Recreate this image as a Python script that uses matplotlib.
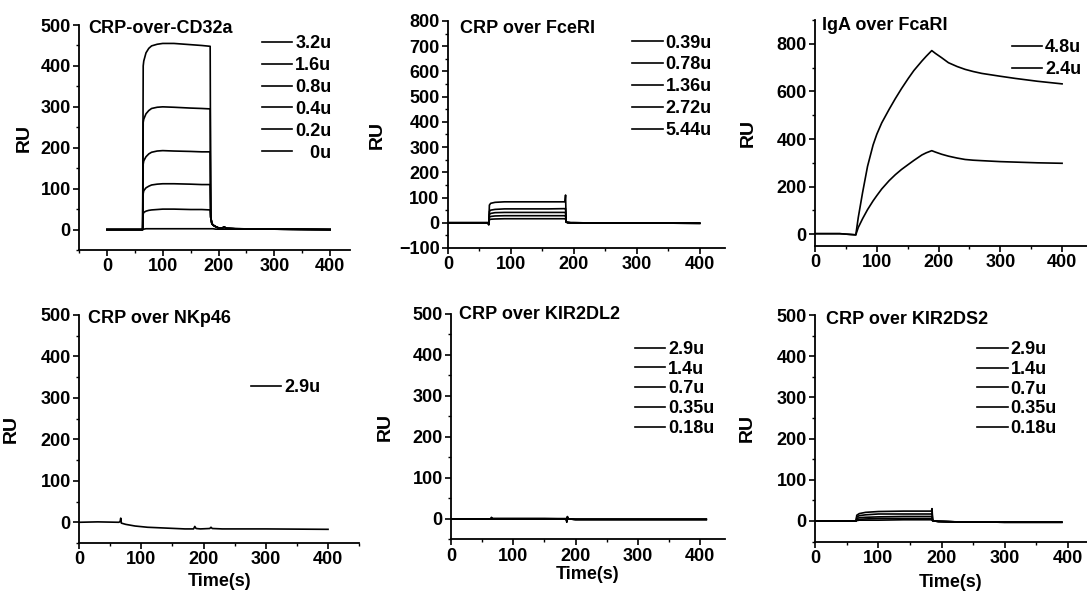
import numpy as np
import matplotlib
matplotlib.use("Agg")
import matplotlib.pyplot as plt
from matplotlib.ticker import MultipleLocator

plt.rcParams['font.family'] = ['Liberation Sans', 'DejaVu Sans']
plt.rcParams['font.weight'] = 'bold'
plt.rcParams['font.size'] = 13

# ---- CRP over CD32a ----
t_cd32 = [0, 64, 65, 66, 70, 75, 80, 90, 100, 120, 150, 170, 185, 186, 188, 190, 195, 200, 205, 210, 215, 230, 300, 400]
cd32_labels = ['3.2u', '1.6u', '0.8u', '0.4u', '0.2u', '   0u']
cd32_32 = [0, 0, 400, 412, 432, 443, 449, 453, 455, 455, 452, 450, 448, 30, 15, 11, 7, 4, 3, 6, 3, 2, 1, 0]
cd32_16 = [0, 0, 262, 270, 283, 291, 296, 299, 300, 299, 297, 296, 295, 30, 15, 11, 7, 4, 3, 6, 3, 2, 1, 0]
cd32_08 = [0, 0, 160, 168, 178, 185, 189, 192, 193, 192, 191, 190, 190, 30, 15, 11, 7, 4, 3, 6, 3, 2, 1, 0]
cd32_04 = [0, 0, 88, 95, 102, 106, 109, 111, 112, 112, 111, 110, 110, 30, 15, 11, 7, 4, 3, 6, 3, 2, 1, 0]
cd32_02 = [0, 0, 38, 42, 45, 47, 48, 49, 50, 50, 49, 49, 48, 30, 15, 11, 7, 4, 3, 6, 3, 2, 1, 0]
cd32_00 = [0, 0, 1, 1, 2, 2, 2, 2, 2, 2, 2, 2, 2, 2, 2, 2, 1, 1, 1, 1, 1, 1, 1, 0]

# ---- CRP over FceRI ----
t_fce = [0, 60, 64, 65, 66, 68, 75, 90, 120, 160, 186, 187, 188, 190, 195, 200, 250, 300, 400]
fce_labels = ['0.39u', '0.78u', '1.36u', '2.72u', '5.44u']
fce_039 = [0, 0, 0, -7, 12, 14, 15, 16, 16, 16, 16, 16, 3, 1, 0, 0, -1, -1, -2]
fce_078 = [0, 0, 0, -7, 22, 25, 27, 28, 28, 28, 28, 28, 3, 1, 0, 0, -1, -1, -2]
fce_136 = [0, 0, 0, -7, 33, 37, 40, 41, 41, 41, 41, 41, 3, 1, 0, 0, -1, -1, -2]
fce_272 = [0, 0, 0, -7, 45, 50, 53, 55, 55, 55, 56, 56, 3, 1, 0, 0, -1, -1, -2]
fce_544 = [0, 0, 0, -7, 70, 77, 81, 83, 83, 83, 83, 110, 3, 1, 0, 0, -1, -1, -2]

# ---- IgA over FcaRI ----
t_iga = [0, 40, 66, 70, 77, 85, 94, 100, 108, 120, 130, 140, 151, 160, 173, 180, 189,
         195, 205, 216, 230, 243, 256, 270, 300, 324, 360, 400]
iga_labels = ['4.8u', '2.4u']
iga_48 = [2, 2, -3, 70, 175, 285, 375, 420, 468, 525, 570, 612, 655, 688, 728, 748, 772,
          760, 742, 721, 705, 693, 684, 676, 664, 655, 643, 632]
iga_24 = [2, 2, -3, 28, 65, 103, 140, 162, 190, 225, 250, 272, 293, 310, 333, 342, 351,
          345, 336, 328, 320, 314, 311, 309, 305, 303, 300, 298]

# ---- CRP over NKp46 ----
t_nk = [0, 30, 64, 66, 67, 68, 75, 90, 110, 140, 170, 184, 186, 188, 195, 210, 212, 214, 230, 300, 400]
nk_labels = ['2.9u']
nk_29 = [0, 1, 0, 2, 10, -2, -5, -9, -12, -14, -16, -16, -10, -15, -16, -15, -12, -15, -16, -16, -17]

# ---- CRP over KIR2DL2 ----
t_dl = [0, 64, 65, 66, 67, 100, 150, 185, 186, 187, 188, 190, 200, 250, 300, 410]
kir_labels = ['2.9u', '1.4u', '0.7u', '0.35u', '0.18u']
dl_29 = [0, 0, 4, 2, 1, 1, 1, 1, -8, 6, 0, 0, -1, -1, -1, -1]
dl_14 = [0, 0, 3, 1, 1, 1, 1, 0, -6, 5, 0, 0, -1, -1, -1, -1]
dl_07 = [0, 0, 2, 1, 0, 0, 0, 0, -5, 4, 0, 0, -1, -1, -1, -1]
dl_035 = [0, 0, 2, 0, 0, 0, 0, 0, -4, 3, 0, 0, -1, -1, -1, -1]
dl_018 = [0, 0, 1, 0, 0, 0, 0, 0, -3, 2, 0, 0, -1, -1, -1, -1]

# ---- CRP over KIR2DS2 ----
t_ds = [0, 64, 65, 66, 70, 80, 100, 140, 184, 185, 186, 188, 195, 220, 300, 390]
ds_29 = [0, 0, 1, 14, 18, 21, 23, 24, 24, 30, 2, 0, -1, -2, -3, -3]
ds_14 = [0, 0, 1, 10, 13, 15, 17, 17, 17, 20, 2, 0, -1, -2, -3, -3]
ds_07 = [0, 0, 1, 6, 8, 9, 10, 11, 11, 12, 1, 0, -1, -2, -3, -3]
ds_035 = [0, 0, 0, 3, 4, 5, 6, 6, 6, 6, 1, 0, -1, -2, -3, -3]
ds_018 = [0, 0, 0, 1, 2, 2, 2, 3, 3, 3, 0, 0, -1, -2, -3, -3]


def style_axes(ax, xlim, ylim, ymaj, ymin):
    ax.set_xlim(*xlim)
    ax.set_ylim(*ylim)
    ax.spines['top'].set_visible(False)
    ax.spines['right'].set_visible(False)
    for s in ['left', 'bottom']:
        ax.spines[s].set_linewidth(1.3)
    ax.xaxis.set_major_locator(MultipleLocator(100))
    ax.xaxis.set_minor_locator(MultipleLocator(50))
    ax.yaxis.set_major_locator(MultipleLocator(ymaj))
    ax.yaxis.set_minor_locator(MultipleLocator(ymin))
    ax.tick_params(which='major', direction='out', length=4, width=1.2, pad=2)
    ax.tick_params(which='minor', direction='out', length=2.5, width=1.0)
    ax.set_ylabel('RU', fontweight='bold', fontsize=14)


def panel(ax, t, series, labels, title, title_xy, leg_xy, ylab_x, spacing=0.27):
    for y, lab in zip(series, labels):
        ax.plot(t, y, color='black', lw=1.2, label=lab)
    ax.text(title_xy[0], title_xy[1], title, transform=ax.transAxes,
            ha='left', va='center', fontweight='bold')
    ax.legend(loc='upper left', bbox_to_anchor=leg_xy, frameon=False,
              handlelength=1.7, handletextpad=0.15, labelspacing=spacing,
              borderpad=0, borderaxespad=0)
    ax.yaxis.set_label_coords(ylab_x, 0.5)


def main():
    fig = plt.figure(figsize=(10.87, 5.96), dpi=100)

    ax1 = fig.add_axes([0.0727, 0.5805, 0.249, 0.3775])
    style_axes(ax1, (-50, 435), (-50, 500), 100, 50)
    panel(ax1, t_cd32, [cd32_32, cd32_16, cd32_08, cd32_04, cd32_02, cd32_00],
          cd32_labels, 'CRP-over-CD32a', (0.033, 0.985), (0.675, 0.955), -0.17)

    ax2 = fig.add_axes([0.412, 0.5839, 0.2548, 0.381])
    style_axes(ax2, (0, 440), (-100, 800), 100, 50)
    panel(ax2, t_fce, [fce_039, fce_078, fce_136, fce_272, fce_544],
          fce_labels, 'CRP over FceRI', (0.045, 0.965), (0.665, 0.94), -0.225)

    ax3 = fig.add_axes([0.7498, 0.5872, 0.25, 0.379])
    style_axes(ax3, (0, 440), (-50, 900), 200, 100)
    panel(ax3, t_iga, [iga_48, iga_24],
          iga_labels, 'IgA over FcaRI', (0.026, 0.978), (0.724, 0.915), -0.215)

    ax4 = fig.add_axes([0.0727, 0.0889, 0.2577, 0.3826])
    style_axes(ax4, (0, 450), (-50, 500), 100, 50)
    panel(ax4, t_nk, [nk_29], nk_labels, 'CRP over NKp46',
          (0.032, 0.983), (0.613, 0.72), -0.21)

    ax5 = fig.add_axes([0.4149, 0.0948, 0.252, 0.3784])
    style_axes(ax5, (0, 440), (-50, 500), 100, 50)
    panel(ax5, t_dl, [dl_29, dl_14, dl_07, dl_035, dl_018], kir_labels,
          'CRP over KIR2DL2', (0.03, 0.996), (0.67, 0.88), -0.21, spacing=0.15)

    ax6 = fig.add_axes([0.7498, 0.0913, 0.2502, 0.380])
    style_axes(ax6, (0, 430), (-50, 500), 100, 50)
    panel(ax6, t_ds, [ds_29, ds_14, ds_07, ds_035, ds_018], kir_labels,
          'CRP over KIR2DS2', (0.04, 0.982), (0.596, 0.885), -0.217, spacing=0.15)

    for ax, yoff in [(ax4, -0.131), (ax5, -0.118), (ax6, -0.142)]:
        ax.set_xlabel('Time(s)', fontweight='bold')
        ax.xaxis.set_label_coords(0.5, yoff)

    fig.savefig('out.png', dpi=100)


if __name__ == "__main__":
    main()
